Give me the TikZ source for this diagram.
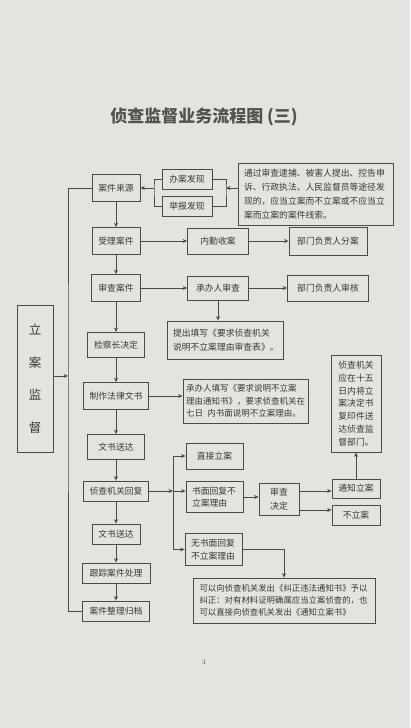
\documentclass[tikz,border=0pt]{standalone}
\usepackage{fontspec}
\usepackage{tikz}
\usetikzlibrary{arrows.meta}
\newfontfamily\cjk{Noto Sans CJK SC}
\definecolor{pgbg}{HTML}{E4E3DF}
\definecolor{inkln}{HTML}{4A4A48}
\definecolor{inktx}{HTML}{383836}

\begin{document}
\begin{tikzpicture}[x=1pt,y=-1pt,
  bx/.style={draw=inkln,line width=0.8pt,text=inktx,inner sep=0pt,
             font=\cjk\fontsize{8.8}{12.5}\selectfont},
  ar/.style={-{Stealth[length=4.5pt,width=4pt]},draw=inkln,line width=0.7pt},
  ln/.style={draw=inkln,line width=0.7pt}
]
\fill[pgbg] (0,0) rectangle (410,728);
\useasboundingbox (0,0) rectangle (410,728);

\node[text=inktx!85!pgbg,font=\cjk\bfseries\fontsize{17}{20}\selectfont] (title) at (204,117) {侦查监督业务流程图 (三)};

% main column
\node[bx,minimum width=48,minimum height=27] (src) at (116,188) {案件来源};
\node[bx,minimum width=48,minimum height=27] (accept) at (116,241) {受理案件};
\node[bx,minimum width=49,minimum height=27] (review) at (116,288) {审查案件};
\node[bx,minimum width=57,minimum height=25] (chief) at (116,345) {检察长决定};
\node[bx,minimum width=65,minimum height=27] (draft) at (116,396) {制作法律文书};
\node[bx,minimum width=57,minimum height=25] (deliver1) at (116,447) {文书送达};
\node[bx,minimum width=65,minimum height=20] (reply) at (116,491) {侦查机关回复};
\node[bx,minimum width=48,minimum height=20] (deliver2) at (116,534) {文书送达};
\node[bx,minimum width=68,minimum height=20] (track) at (116,573) {跟踪案件处理};
\node[bx,minimum width=67,minimum height=20] (file) at (116,611) {案件整理归档};

% sources
\node[bx,minimum width=50,minimum height=20] (find) at (187,179) {办案发现};
\node[bx,minimum width=50,minimum height=20] (report) at (187,206) {举报发现};
\node[bx,minimum width=155,minimum height=62,text width=143,inner xsep=6pt,align=left,
      font=\cjk\fontsize{8.8}{14}\selectfont] (info) at (315.5,194)
  {通过审查逮捕、被害人提出、控告申\\诉、行政执法、人民监督员等途径发\\现的，应当立案而不立案或不应当立\\案而立案的案件线索。};

% side steps
\node[bx,minimum width=61,minimum height=26] (duty) at (218,241) {内勤收案};
\node[bx,minimum width=78,minimum height=28] (assign) at (328,241) {部门负责人分案};
\node[bx,minimum width=61,minimum height=24] (handler) at (218,288) {承办人审查};
\node[bx,minimum width=81,minimum height=26] (headrev) at (328,288) {部门负责人审核};
\node[bx,minimum width=116,minimum height=38,text width=104,inner xsep=6pt,align=left,
      font=\cjk\fontsize{8.8}{13.5}\selectfont] (form) at (225,340)
  {提出填写《要求侦查机关\\说明不立案理由审查表》。};
\node[bx,minimum width=125,minimum height=44,text width=119,inner xsep=3pt,align=left,
      font=\cjk\fontsize{8.5}{12.5}\selectfont] (notice) at (245.5,401)
  {承办人填写《要求说明不立案\\理由通知书》，要求侦查机关在\\七日\enspace 内书面说明不立案理由。};
\node[bx,minimum width=50,minimum height=97,text width=40,inner xsep=5pt,align=center,
      font=\cjk\fontsize{8.8}{12.8}\selectfont] (copy) at (356,403.5)
  {侦查机关\\应在十五\\日内将立\\案决定书\\复印件送\\达侦查监\\督部门。};

% replies
\node[bx,minimum width=57,minimum height=26] (direct) at (214.5,456) {直接立案};
\node[bx,minimum width=57,minimum height=31,text width=45,inner xsep=6pt,align=left] (written) at (214.5,497)
  {书面回复不\\立案理由};
\node[bx,minimum width=40,minimum height=32,text width=30,inner xsep=5pt,align=center,
      font=\cjk\fontsize{8.8}{14}\selectfont] (decide) at (279,499) {审查\\决定};
\node[bx,minimum width=48,minimum height=19] (inform) at (356,488.5) {通知立案};
\node[bx,minimum width=48,minimum height=20] (noopen) at (356,515) {不立案};
\node[bx,minimum width=57,minimum height=32,text width=45,inner xsep=6pt,align=left] (nowritten) at (213.5,549.5)
  {无书面回复\\不立案理由};
\node[bx,minimum width=182,minimum height=45,text width=169,inner xsep=6.5pt,align=left,
      font=\cjk\fontsize{8.4}{12}\selectfont] (remedy) at (284,600.5)
  {可以向侦查机关发出《纠正违法通知书》予以\\纠正：对有材料证明确属应当立案侦查的，也\\可以直接向侦查机关发出《通知立案书》};

% supervision
\node[bx,minimum width=36,minimum height=147,align=center,
      font=\cjk\fontsize{12.5}{32.5}\selectfont] (super) at (35,378.5) {立\\案\\监\\督};

\node[text=inktx,font=\fontsize{6.5}{8}\selectfont] (pgno) at (204,662) {3};

% connectors
\coordinate (lbr) at (154,188);
\coordinate (rbr) at (226,188);
\draw[ln] (find.west) -| (lbr) |- (report.west);
\draw[ar] (lbr) -- (src.east);
\draw[ln] (find.east) -| (rbr) |- (report.east);
\draw[ar] (info.west |- rbr) -- (rbr);

\draw[ar] (src) -- (accept);
\draw[ar] (accept) -- (review);
\draw[ar] (review) -- (chief);
\draw[ar] (chief) -- (draft);
\draw[ar] (draft) -- (deliver1);
\draw[ar] (deliver1) -- (reply);
\draw[ar] (reply) -- (deliver2);
\draw[ar] (deliver2) -- (track);
\draw[ar] (track) -- (file);

\draw[ar] (accept) -- (duty);
\draw[ar] (duty) -- (assign);
\draw[ar] (review) -- (handler);
\draw[ar] (handler) -- (headrev);
\draw[ar] (handler) -- (handler |- form.north);
\draw[ar] (draft) -- (draft -| notice.west);

\coordinate (br) at (173,491);
\draw[ar] (reply) -- (br);
\draw[ln] (br |- direct) -- (br |- nowritten);
\draw[ar] (br |- direct) -- (direct);
\draw[ar] (br) -- (br -| written.west);
\draw[ar] (br |- nowritten) -- (nowritten);
\draw[ar] (written) -- (written -| decide.west);
\coordinate[yshift=8pt] (dhi) at (decide.east);
\coordinate[yshift=-11pt] (dlo) at (decide.east);
\draw[ar] (dhi) -- (dhi -| inform.west);
\draw[ar] (dlo) -- (dlo -| noopen.west);
\draw[ar] (inform) -- (copy);
\draw[ar] (nowritten) -| (remedy);

\coordinate (bus) at (68,376);
\draw[ln] (src) -| (bus) |- (file);
\draw[ar] (super.east |- bus) -- (bus);
\end{tikzpicture}
\end{document}
